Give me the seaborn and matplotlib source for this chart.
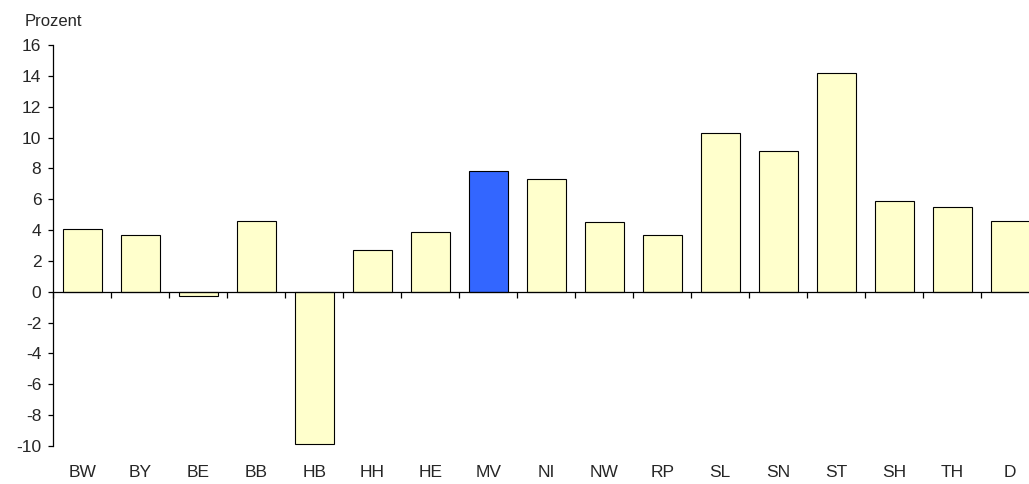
import numpy as np
import pandas as pd
import matplotlib
matplotlib.use("Agg")
import matplotlib.pyplot as plt
import seaborn as sns

# Data
laender = ["BW", "BY", "BE", "BB", "HB", "HH", "HE", "MV", "NI",
           "NW", "RP", "SL", "SN", "ST", "SH", "TH", "D"]
werte = [4.1, 3.7, -0.3, 4.6, -9.9, 2.7, 3.9, 7.8, 7.3,
         4.5, 3.7, 10.3, 9.1, 14.2, 5.9, 5.5, 4.6]
hervorgehoben = "MV"
y_ticks = list(range(-10, 17, 2))

df = pd.DataFrame({"Land": laender, "Prozent": werte})

sns.set_style("white")
plt.rcParams["font.family"] = ["Liberation Sans", "DejaVu Sans"]
plt.rcParams["axes.unicode_minus"] = False

farben = {l: ("#3366FF" if l == hervorgehoben else "#FFFFCC") for l in laender}

fig = plt.figure(figsize=(10.29, 4.84), dpi=100)
# axes runs slightly past the right edge, as in the original
ax = fig.add_axes([53.3 / 1029, 1 - 446 / 484, 986 / 1029, (446 - 45) / 484])

sns.barplot(data=df, x="Land", y="Prozent", hue="Land", palette=farben,
            legend=False, width=0.67, saturation=1, edgecolor="black",
            linewidth=0.8, ax=ax)

ax.set_xlim(-0.5, len(laender) - 0.5)
ax.set_ylim(-10, 16)
ax.set_yticks(y_ticks)
ax.set_xlabel("")
ax.set_ylabel("")

# spines: y axis on the left, x axis at zero
for s in ["top", "right"]:
    ax.spines[s].set_visible(False)
ax.spines["bottom"].set_position(("data", 0))
for s in ["left", "bottom"]:
    ax.spines[s].set_color("black")
    ax.spines[s].set_linewidth(0.9)

# category boundary ticks on the zero line, labels down at the bottom
ax.set_xticks(np.arange(-0.5, len(laender), 1))
ax.set_xticklabels([])
ax.set_xticks(np.arange(len(laender)), minor=True)
ax.set_xticklabels(laender, minor=True)
ax.tick_params(axis="x", which="major", direction="out", length=4.3,
               width=0.9, color="black", bottom=True)
ax.tick_params(axis="x", which="minor", length=0, pad=125, labelsize=12.5)
ax.tick_params(axis="y", direction="out", length=3.6, width=0.9,
               color="black", left=True, pad=5, labelsize=12.5)

fig.text(25 / 1029, 1 - 21 / 484, "Prozent", fontsize=12, va="center", ha="left")

fig.savefig("out.png", dpi=100)
